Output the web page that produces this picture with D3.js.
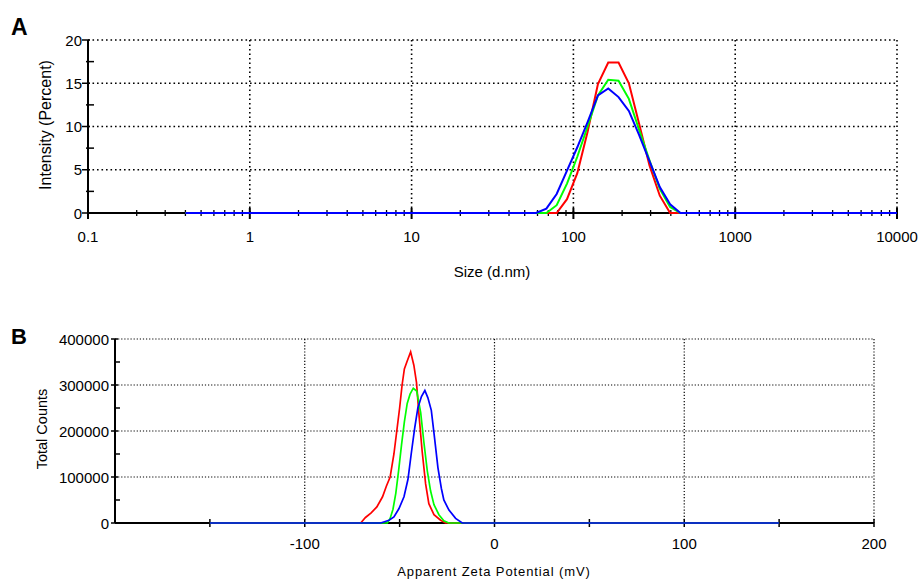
<!DOCTYPE html>
<html><head><meta charset="utf-8">
<script src="https://cdn.jsdelivr.net/npm/d3@7"></script>
<style>
body{margin:0;background:#fff;}
text{font-family:"Liberation Sans",Arial,sans-serif;fill:#000;}
</style></head>
<body><svg id="c" width="922" height="581"></svg>
<script>
// ---------- Panel A data (size distribution by intensity) ----------
const sizeBins = [0.4, 50.75, 58.77, 68.06, 78.82, 91.28, 105.7, 122.4, 141.8, 164.2, 190.1, 220.2, 255.0, 295.3, 342.0, 396.1, 458.7, 531.2, 10000];
const sizeRed   = [0, 0, 0, 0, 0, 1.6, 4.6, 9.4, 14.9, 17.4, 17.4, 15.0, 10.3, 5.5, 2.0, 0, 0, 0, 0];
const sizeGreen = [0, 0, 0, 0, 0.9, 3.4, 6.5, 10.0, 13.6, 15.4, 15.3, 13.2, 9.6, 6.1, 2.8, 0.7, 0, 0, 0];
const sizeBlue  = [0, 0, 0, 0.5, 2.2, 4.9, 7.6, 10.5, 13.6, 14.4, 13.4, 11.8, 9.0, 6.0, 3.0, 1.0, 0, 0, 0];
const sizeYTicks = [0, 5, 10, 15, 20];
const sizeXTicks = [0.1, 1, 10, 100, 1000, 10000];
const sizeXLabels = ["0.1", "1", "10", "100", "1000", "10000"];

// ---------- Panel B data (zeta potential) ----------
const zetaRedX   = [-150, -70.5, -68, -65, -62, -59, -57, -55, -53, -51.5, -50, -48.7, -47.5, -46, -44.2, -42.5, -41.1, -39.9, -38.1, -36.3, -34.6, -31.9, -28.4, -25.8, 150];
const zetaRedY   = [0, 0, 12000, 22000, 35000, 57000, 80000, 100000, 150000, 200000, 250000, 300000, 335000, 352000, 372000, 343000, 305000, 240000, 155000, 85000, 42000, 18000, 6000, 0, 0];
const zetaGreenX = [-150, -56.5, -55, -53.5, -52, -50.5, -49, -47.5, -46, -44.5, -42.8, -41, -38.9, -37.2, -35.4, -33.7, -31.9, -29.3, -26.7, -24.1, 150];
const zetaGreenY = [0, 0, 10000, 30000, 65000, 115000, 170000, 220000, 260000, 280000, 293000, 287000, 240000, 175000, 113000, 70000, 40000, 18000, 5000, 0, 0];
const zetaBlueX  = [-150, -60, -55.6, -53, -50.4, -47.7, -45.6, -43.9, -42.1, -40.4, -38.5, -36.7, -35.1, -33.3, -31.6, -29.8, -28, -26.7, -24, -20.5, -17, 150];
const zetaBlueY  = [0, 0, 6000, 13000, 31000, 57000, 95000, 150000, 205000, 250000, 275000, 288000, 272000, 245000, 185000, 120000, 75000, 50000, 28000, 10000, 0, 0];
const zetaYTicks = [0, 100000, 200000, 300000, 400000];
const zetaXTicks = [-100, 0, 100, 200];
const zetaXMinor = [-150, -50, 50, 150];

const colors = {red: "#ff0000", green: "#00ff00", blue: "#0000ff"};
const svg = d3.select("#c");

// ================= Panel A =================
(function(){
  const L = 88, R = 897, T = 40, B = 213;
  const x = d3.scaleLog().domain([0.1, 10000]).range([L, R]);
  const y = d3.scaleLinear().domain([0, 20]).range([B, T]);
  const g = svg.append("g");
  const gw = 1.6, gd = "1.6,2.9";
  sizeYTicks.filter(v => v > 0).forEach(v => {
    g.append("line").attr("x1", L).attr("x2", R).attr("y1", y(v)).attr("y2", y(v))
      .attr("stroke", "#000").attr("stroke-width", gw).attr("stroke-dasharray", gd);
  });
  sizeXTicks.filter(v => v > 0.1).forEach(v => {
    g.append("line").attr("x1", x(v)).attr("x2", x(v)).attr("y1", T).attr("y2", B)
      .attr("stroke", "#000").attr("stroke-width", gw).attr("stroke-dasharray", gd);
  });
  g.append("line").attr("x1", L).attr("x2", R).attr("y1", B).attr("y2", B).attr("stroke", "#000").attr("stroke-width", 2);
  g.append("line").attr("x1", L).attr("x2", L).attr("y1", T).attr("y2", B).attr("stroke", "#000").attr("stroke-width", 2);
  const minors = [];
  for (let d = 0.1; d < 10000; d *= 10) for (let k = 2; k <= 9; k++) minors.push(d * k);
  minors.forEach(v => g.append("line").attr("x1", x(v)).attr("x2", x(v)).attr("y1", B - 3).attr("y2", B + 3).attr("stroke", "#000").attr("stroke-width", 1.3));
  sizeXTicks.forEach((v, i) => {
    g.append("line").attr("x1", x(v)).attr("x2", x(v)).attr("y1", B - 5).attr("y2", B + 6).attr("stroke", "#000").attr("stroke-width", 2);
    g.append("text").attr("x", x(v)).attr("y", 242).attr("text-anchor", "middle").attr("font-size", 15).text(sizeXLabels[i]);
  });
  for (let v = 2.5; v < 20; v += 5) g.append("line").attr("x1", L - 2).attr("x2", L + 6).attr("y1", y(v)).attr("y2", y(v)).attr("stroke", "#000").attr("stroke-width", 1.5);
  sizeYTicks.forEach(v => {
    g.append("line").attr("x1", L - 6).attr("x2", L + 2).attr("y1", y(v)).attr("y2", y(v)).attr("stroke", "#000").attr("stroke-width", 1.5);
    g.append("text").attr("x", 82).attr("y", y(v) + 5.5).attr("text-anchor", "end").attr("font-size", 15).text(v);
  });
  const line = d3.line().x(d => x(d[0])).y(d => y(d[1]));
  [[sizeRed, colors.red], [sizeGreen, colors.green], [sizeBlue, colors.blue]].forEach(([vals, c]) => {
    g.append("path").datum(sizeBins.map((s, i) => [s, vals[i]])).attr("d", line)
      .attr("fill", "none").attr("stroke", c).attr("stroke-width", 2);
  });
  g.append("text").attr("transform", "translate(51,125) rotate(-90)").attr("text-anchor", "middle").attr("font-size", 16).text("Intensity (Percent)");
  g.append("text").attr("x", 492).attr("y", 277).attr("text-anchor", "middle").attr("font-size", 15).text("Size (d.nm)");
  g.append("text").attr("x", 11).attr("y", 35).attr("font-size", 23).attr("font-weight", "bold").text("A");
})();

// ================= Panel B =================
(function(){
  const L = 115, R = 874, T = 339, B = 523;
  const x = d3.scaleLinear().domain([-200, 200]).range([L, R]);
  const y = d3.scaleLinear().domain([0, 400000]).range([B, T]);
  const g = svg.append("g");
  const gw = 1.2, gd = "1.2,1.9";
  zetaYTicks.filter(v => v > 0).forEach(v => {
    g.append("line").attr("x1", L).attr("x2", R).attr("y1", y(v)).attr("y2", y(v))
      .attr("stroke", "#000").attr("stroke-width", gw).attr("stroke-dasharray", gd);
  });
  zetaXTicks.forEach(v => {
    g.append("line").attr("x1", x(v)).attr("x2", x(v)).attr("y1", T).attr("y2", B)
      .attr("stroke", "#000").attr("stroke-width", gw).attr("stroke-dasharray", gd);
  });
  g.append("line").attr("x1", L).attr("x2", R).attr("y1", B).attr("y2", B).attr("stroke", "#000").attr("stroke-width", 2);
  g.append("line").attr("x1", L).attr("x2", L).attr("y1", T).attr("y2", B).attr("stroke", "#000").attr("stroke-width", 2);
  zetaXMinor.concat(zetaXTicks).forEach(v => {
    g.append("line").attr("x1", x(v)).attr("x2", x(v)).attr("y1", B - 4).attr("y2", B + 4).attr("stroke", "#000").attr("stroke-width", 1.5);
  });
  zetaXTicks.forEach(v => {
    g.append("text").attr("x", x(v)).attr("y", 549).attr("text-anchor", "middle").attr("font-size", 15).text(v);
  });
  for (let v = 50000; v < 400000; v += 100000) g.append("line").attr("x1", L - 1).attr("x2", L + 5).attr("y1", y(v)).attr("y2", y(v)).attr("stroke", "#000").attr("stroke-width", 1.5);
  zetaYTicks.forEach(v => {
    g.append("line").attr("x1", L - 4).attr("x2", L + 3).attr("y1", y(v)).attr("y2", y(v)).attr("stroke", "#000").attr("stroke-width", 1.5);
    g.append("text").attr("x", 109).attr("y", y(v) + 5.5).attr("text-anchor", "end").attr("font-size", 15).text(v);
  });
  const line = d3.line().x(d => x(d[0])).y(d => y(d[1]));
  [[zetaRedX, zetaRedY, colors.red], [zetaGreenX, zetaGreenY, colors.green], [zetaBlueX, zetaBlueY, colors.blue]].forEach(([xs, ys, c]) => {
    g.append("path").datum(xs.map((v, i) => [v, ys[i]])).attr("d", line)
      .attr("fill", "none").attr("stroke", c).attr("stroke-width", 1.7);
  });
  g.append("text").attr("transform", "translate(47,429) rotate(-90)").attr("text-anchor", "middle").attr("font-size", 14.5).text("Total Counts");
  g.append("text").attr("x", 494).attr("y", 576).attr("text-anchor", "middle").attr("font-size", 13).attr("letter-spacing", 0.9).text("Apparent Zeta Potential (mV)");
  g.append("text").attr("x", 11).attr("y", 344).attr("font-size", 22).attr("font-weight", "bold").text("B");
})();
</script></body></html>
